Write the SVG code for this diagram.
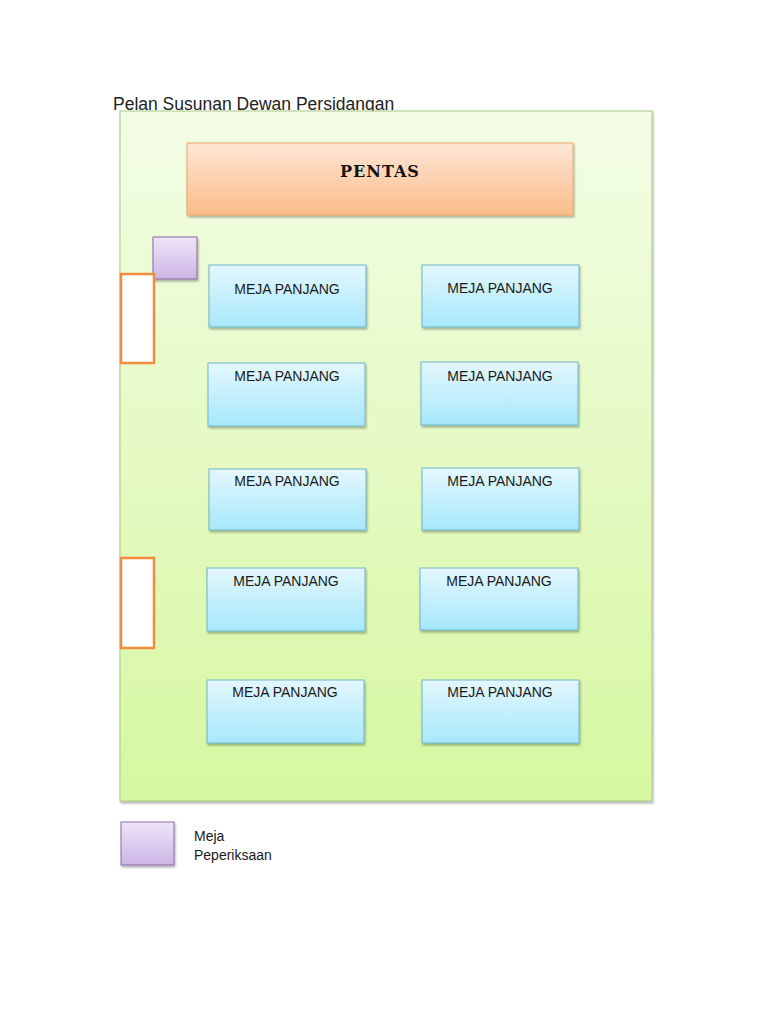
<svg xmlns="http://www.w3.org/2000/svg" width="768" height="1024" viewBox="0 0 768 1024">
<defs>
<linearGradient id="gHall" x1="0" y1="0" x2="0" y2="1"><stop offset="0" stop-color="#f3fde6"/><stop offset="1" stop-color="#d6f7a0"/></linearGradient>
<linearGradient id="gStage" x1="0" y1="0" x2="0" y2="1"><stop offset="0" stop-color="#fde6d6"/><stop offset="1" stop-color="#fbbd8a"/></linearGradient>
<linearGradient id="gTable" x1="0" y1="0" x2="0" y2="1"><stop offset="0" stop-color="#e4f7fd"/><stop offset="1" stop-color="#a6e8fb"/></linearGradient>
<linearGradient id="gExam" x1="0" y1="0" x2="0" y2="1"><stop offset="0" stop-color="#eee6f7"/><stop offset="1" stop-color="#cdb5e6"/></linearGradient>
<filter id="sh" x="-10%" y="-10%" width="130%" height="130%"><feDropShadow dx="1" dy="2" stdDeviation="1.2" flood-color="#000" flood-opacity="0.3"/></filter>
</defs>
<style>
.t{font-family:"Liberation Sans",Arial,sans-serif;font-size:14px;fill:#1a1a1a}
.tbl{fill:url(#gTable);stroke:#6fb5c8;stroke-width:1;filter:url(#sh)}
.exam{fill:url(#gExam);stroke:#8a6aa8;stroke-width:1;filter:url(#sh)}
.door{fill:#fff;stroke:#f28c3c;stroke-width:2.5}
</style>
<rect width="768" height="1024" fill="#fff"/>
<text x="113" y="110" style="font-family:'Liberation Sans',Arial,sans-serif;font-size:17.5px;fill:#222">Pelan Susunan Dewan Persidangan</text>
<g id="hall"><rect x="120" y="111" width="532" height="690" fill="url(#gHall)" stroke="#a8c882" stroke-width="1" filter="url(#sh)"/></g>
<g id="pentas"><rect x="187" y="143" width="386" height="72" fill="url(#gStage)" stroke="#eca46a" stroke-width="1" filter="url(#sh)"/>
<text x="380" y="177" text-anchor="middle" style="font-family:'DejaVu Serif',serif;font-weight:bold;font-size:16px;fill:#111;letter-spacing:1px">PENTAS</text></g>
<g id="exam1"><rect class="exam" x="153" y="237" width="44" height="42"/></g>
<g id="door1"><rect class="door" x="121" y="274" width="33" height="89"/></g>
<g id="door2"><rect class="door" x="121" y="558" width="33" height="90"/></g>
<g id="t1"><rect class="tbl" x="209" y="265" width="157" height="62"/><text class="t" x="287" y="294" text-anchor="middle">MEJA PANJANG</text></g>
<g id="t2"><rect class="tbl" x="422" y="265" width="157" height="62"/><text class="t" x="500" y="293" text-anchor="middle">MEJA PANJANG</text></g>
<g id="t3"><rect class="tbl" x="208" y="363" width="157" height="63"/><text class="t" x="287" y="381" text-anchor="middle">MEJA PANJANG</text></g>
<g id="t4"><rect class="tbl" x="421" y="362" width="157" height="63"/><text class="t" x="500" y="381" text-anchor="middle">MEJA PANJANG</text></g>
<g id="t5"><rect class="tbl" x="209" y="469" width="157" height="61"/><text class="t" x="287" y="486" text-anchor="middle">MEJA PANJANG</text></g>
<g id="t6"><rect class="tbl" x="422" y="468" width="157" height="62"/><text class="t" x="500" y="486" text-anchor="middle">MEJA PANJANG</text></g>
<g id="t7"><rect class="tbl" x="207" y="568" width="158" height="63"/><text class="t" x="286" y="586" text-anchor="middle">MEJA PANJANG</text></g>
<g id="t8"><rect class="tbl" x="420" y="568" width="158" height="62"/><text class="t" x="499" y="586" text-anchor="middle">MEJA PANJANG</text></g>
<g id="t9"><rect class="tbl" x="207" y="680" width="157" height="63"/><text class="t" x="285" y="697" text-anchor="middle">MEJA PANJANG</text></g>
<g id="t10"><rect class="tbl" x="422" y="680" width="157" height="63"/><text class="t" x="500" y="697" text-anchor="middle">MEJA PANJANG</text></g>
<g id="legend"><rect class="exam" x="121" y="822" width="53" height="43"/>
<text class="t" x="194" y="841">Meja</text><text class="t" x="194" y="860">Peperiksaan</text></g>
</svg>
